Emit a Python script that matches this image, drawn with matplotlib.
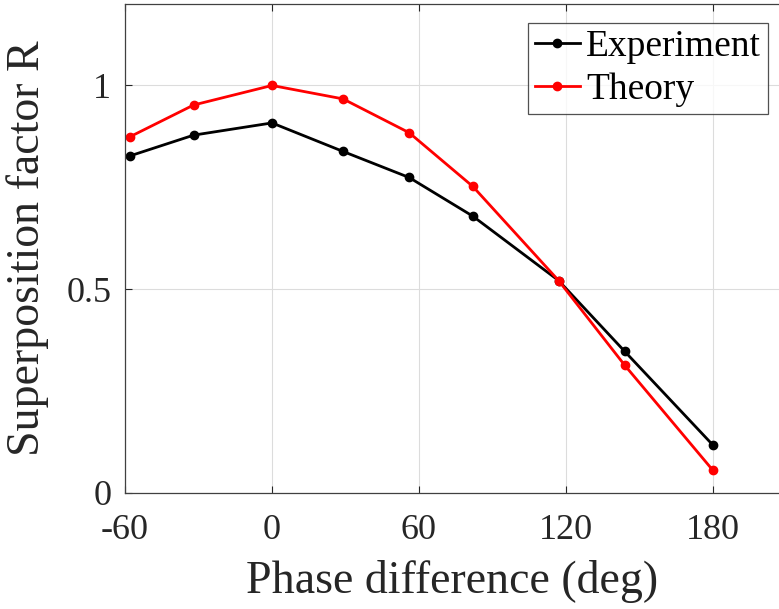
import matplotlib
matplotlib.use("Agg")
import matplotlib.pyplot as plt

# Phase difference (deg) and superposition factor R
phase = [-58, -32, 0, 29, 56, 82, 117, 144, 180]
experiment = [0.827, 0.878, 0.908, 0.838, 0.774, 0.679, 0.521, 0.347, 0.117]
theory = [0.874, 0.952, 1.000, 0.967, 0.884, 0.752, 0.521, 0.313, 0.055]

xticks = [-60, 0, 60, 120, 180]
yticks = [0, 0.5, 1]
yticklabels = ["0", "0.5", "1"]

plt.rcParams["font.family"] = ["Liberation Serif", "DejaVu Serif"]

fig = plt.figure(figsize=(7.79, 6.09), dpi=100)
ax = fig.add_axes([0.1605, 0.191, 0.8395, 0.8024])

ax.plot(phase, experiment, color="black", lw=2, marker="o", ms=6, label="Experiment")
ax.plot(phase, theory, color="red", lw=2, marker="o", ms=6, label="Theory")

ax.set_xlim(-60, 207)
ax.set_ylim(0, 1.2)
ax.set_xticks(xticks)
ax.set_xticklabels([str(t) for t in xticks])
ax.set_yticks(yticks)
ax.set_yticklabels(yticklabels)

ax.grid(True, color="#dcdcdc", lw=0.8)
ax.set_axisbelow(True)
ax.tick_params(direction="in", length=5, width=0.8, color="#262626",
               labelsize=26, labelcolor="#262626", top=True, right=False)
ax.tick_params(axis="x", pad=15)
ax.tick_params(axis="y", pad=10)

for side in ("left", "bottom", "top"):
    ax.spines[side].set_color("#404040")
    ax.spines[side].set_linewidth(0.9)
ax.spines["right"].set_visible(False)

ax.set_xlabel("Phase difference (deg)", fontsize=33, color="#262626", labelpad=10)
ax.set_ylabel("Superposition factor R", fontsize=33, color="#262626", labelpad=12)

leg = ax.legend(loc="upper right", bbox_to_anchor=(0.9825, 0.961), fontsize=27,
                frameon=True, fancybox=False, edgecolor="#262626",
                handlelength=1.2, handletextpad=0.16, borderpad=0.18,
                labelspacing=0.22, borderaxespad=0.0)
leg.get_frame().set_linewidth(0.9)

fig.savefig("out.png", dpi=100)
